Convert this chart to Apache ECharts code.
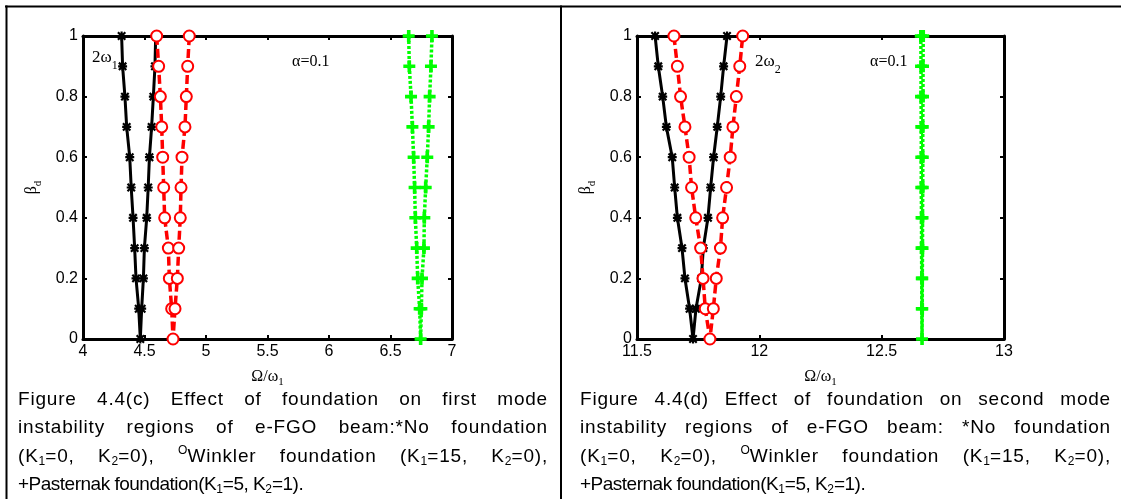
<!DOCTYPE html>
<html>
<head>
<meta charset="utf-8">
<script src="https://cdn.jsdelivr.net/npm/echarts@6/dist/echarts.min.js"></script>
<style>
html,body{margin:0;padding:0;background:#fff;width:1121px;height:499px;overflow:hidden;}
#chart{position:absolute;left:0;top:0;width:1121px;height:499px;}
.cap{position:absolute;font-family:"Liberation Sans",Arial,sans-serif;font-size:19px;line-height:28.3px;color:#000;}
.cap .j{text-align:justify;text-align-last:justify;letter-spacing:0.8px;}
.cap .l{text-align:left;letter-spacing:-0.5px;}
.cap sub{font-size:12px;vertical-align:-3px;line-height:0;letter-spacing:0;}
.cap sup{font-size:12px;vertical-align:8px;line-height:0;letter-spacing:0;}
</style>
</head>
<body>
<div id="chart"></div>
<div class="cap" style="left:18px;top:385px;width:530px;">
  <div class="j">Figure 4.4(c) Effect of foundation on first mode</div>
  <div class="j">instability regions of e-FGO beam:*No foundation</div>
  <div class="j">(K<sub>1</sub>=0, K<sub>2</sub>=0), <sup>O</sup>Winkler foundation (K<sub>1</sub>=15, K<sub>2</sub>=0),</div>
  <div class="l">+Pasternak foundation(K<sub>1</sub>=5, K<sub>2</sub>=1).</div>
</div>
<div class="cap" style="left:580px;top:385px;width:531px;">
  <div class="j">Figure 4.4(d) Effect of foundation on second mode</div>
  <div class="j">instability regions of e-FGO beam: *No foundation</div>
  <div class="j">(K<sub>1</sub>=0, K<sub>2</sub>=0), <sup>O</sup>Winkler foundation (K<sub>1</sub>=15, K<sub>2</sub>=0),</div>
  <div class="l">+Pasternak foundation(K<sub>1</sub>=5, K<sub>2</sub>=1).</div>
</div>
<script>
// beta_d values (y)
const betaVals = [0, 0.1, 0.2, 0.3, 0.4, 0.5, 0.6, 0.7, 0.8, 0.9, 1];

// (c) first mode: lower / upper boundary of instability region (Omega/omega1) at each beta_d
const c_noFoundLower  = [4.466, 4.453, 4.431, 4.420, 4.407, 4.392, 4.380, 4.355, 4.341, 4.322, 4.314];
const c_noFoundUpper  = [4.466, 4.477, 4.491, 4.499, 4.518, 4.530, 4.540, 4.558, 4.572, 4.585, 4.591];
const c_winklerLower  = [4.732, 4.721, 4.702, 4.694, 4.664, 4.656, 4.648, 4.640, 4.629, 4.615, 4.599];
const c_winklerUpper  = [4.732, 4.748, 4.767, 4.778, 4.791, 4.797, 4.805, 4.829, 4.840, 4.851, 4.864];
const c_pasterLower   = [6.745, 6.737, 6.721, 6.713, 6.702, 6.696, 6.688, 6.678, 6.667, 6.653, 6.648];
const c_pasterUpper   = [6.745, 6.751, 6.756, 6.772, 6.775, 6.786, 6.799, 6.810, 6.818, 6.829, 6.837];

// (d) second mode
const d_noFoundLower  = [11.729, 11.715, 11.696, 11.684, 11.665, 11.654, 11.644, 11.620, 11.605, 11.587, 11.574];
const d_noFoundUpper  = [11.729, 11.741, 11.763, 11.771, 11.790, 11.801, 11.813, 11.828, 11.842, 11.854, 11.868];
const d_winklerLower  = [11.798, 11.779, 11.770, 11.760, 11.740, 11.723, 11.713, 11.696, 11.678, 11.665, 11.651];
const d_winklerUpper  = [11.798, 11.812, 11.824, 11.841, 11.850, 11.866, 11.881, 11.892, 11.906, 11.920, 11.932];
const d_pasterLower   = [12.665, 12.664, 12.664, 12.663, 12.663, 12.662, 12.662, 12.662, 12.661, 12.661, 12.660];
const d_pasterUpper   = [12.665, 12.666, 12.666, 12.667, 12.667, 12.668, 12.668, 12.668, 12.669, 12.669, 12.670];

// axis ranges
const c_xRange = [4, 7];
const d_xRange = [11.5, 13];

function branchPath(lower, upper) {
  const pts = [];
  for (let i = betaVals.length - 1; i >= 0; i--) pts.push([lower[i], betaVals[i]]);
  for (let i = 1; i < betaVals.length; i++) pts.push([upper[i], betaVals[i]]);
  return pts;
}

const SANS = 'Liberation Sans';
const SERIF = 'Liberation Serif';
const asterisk = 'path://M3.8,0 L6.2,0 L6.2,10 L3.8,10 Z M0,3.8 L10,3.8 L10,6.2 L0,6.2 Z M1.75,0.05 L9.95,8.25 L8.25,9.95 L0.05,1.75 Z M8.25,0.05 L9.95,1.75 L1.75,9.95 L0.05,8.25 Z';
const plus = 'path://M3.5,0 L6.5,0 L6.5,3.5 L10,3.5 L10,6.5 L6.5,6.5 L6.5,10 L3.5,10 L3.5,6.5 L0,6.5 L0,3.5 L3.5,3.5 Z';

const subRich = {
  a: {fontFamily: SERIF, fontSize: 16, lineHeight: 16, color: '#000'},
  b: {fontFamily: SERIF, fontSize: 11, lineHeight: 10, padding: [12, 0, 0, 0], color: '#000'}
};

function xAx(grid, pos, range, showLabel) {
  const ax = {
    type: 'value', gridIndex: grid, position: pos, min: range[0], max: range[1], interval: 0.5,
    axisLine: {show: true, onZero: false, lineStyle: {color: '#000', width: 3}},
    axisTick: {show: true, inside: true, length: 4, lineStyle: {color: '#000', width: 2}},
    axisLabel: {show: showLabel, color: '#000', fontFamily: SANS, fontSize: 16, margin: 5},
    splitLine: {show: false}
  };
  if (showLabel) {
    ax.name = '{a|Ω/ω}{b|1}';
    ax.nameLocation = 'middle';
    ax.nameGap = 21;
    ax.nameTextStyle = {rich: subRich};
  }
  return ax;
}
function yAx(grid, pos, showLabel) {
  const ax = {
    type: 'value', gridIndex: grid, position: pos, min: 0, max: 1, interval: 0.2,
    axisLine: {show: true, onZero: false, lineStyle: {color: '#000', width: 3}},
    axisTick: {show: true, inside: true, length: 4, lineStyle: {color: '#000', width: 2}},
    axisLabel: {show: showLabel, color: '#000', fontFamily: SANS, fontSize: 16, margin: 5},
    splitLine: {show: false}
  };
  if (showLabel) {
    ax.name = '{a|β}{b|d}';
    ax.nameLocation = 'middle';
    ax.nameGap = 43;
    ax.nameRotate = 90;
    ax.nameTextStyle = {rich: subRich};
  }
  return ax;
}

function seriesSet(gridIdx, nf, wk, ps) {
  const xi = gridIdx * 2, yi = gridIdx * 2;
  return [
    {type: 'line', xAxisIndex: xi, yAxisIndex: yi, data: nf, clip: false, z: 3,
     symbol: asterisk, symbolSize: 9,
     lineStyle: {color: '#000', width: 3, type: 'solid'}, itemStyle: {color: '#000'}},
    {type: 'line', xAxisIndex: xi, yAxisIndex: yi, data: wk, clip: false, z: 4,
     symbol: 'emptyCircle', symbolSize: 11,
     lineStyle: {color: '#ff0000', width: 3.5, type: [9, 4]},
     itemStyle: {color: '#ff0000', borderColor: '#ff0000', borderWidth: 3.5}},
    {type: 'line', xAxisIndex: xi, yAxisIndex: yi, data: ps, clip: false, z: 5,
     symbol: plus, symbolSize: 12,
     lineStyle: {color: '#00ff00', width: 3.5, type: [3, 2]}, itemStyle: {color: '#00ff00'}}
  ];
}

function annot(x, y, text, rich) {
  return {type: 'text', x: x, y: y, z: 100,
    style: {text: text, rich: rich, textAlign: 'left', textVerticalAlign: 'middle', fill: '#000'}};
}
const annRich = {
  a: {fontFamily: SERIF, fontSize: 17, lineHeight: 17, color: '#000'},
  b: {fontFamily: SERIF, fontSize: 12, lineHeight: 11, padding: [16, 0, 0, 0], color: '#000'}
};
const alphaRich = {a: {fontFamily: SERIF, fontSize: 16, lineHeight: 16, color: '#000'}};

const chart = echarts.init(document.getElementById('chart'), null, {renderer: 'canvas'});
chart.setOption({
  animation: false,
  backgroundColor: '#fff',
  grid: [
    {left: 83, right: 669, top: 36, bottom: 160},
    {left: 637, right: 117, top: 36, bottom: 160}
  ],
  xAxis: [
    xAx(0, 'bottom', c_xRange, true), xAx(0, 'top', c_xRange, false),
    xAx(1, 'bottom', d_xRange, true), xAx(1, 'top', d_xRange, false)
  ],
  yAxis: [
    yAx(0, 'left', true), yAx(0, 'right', false),
    yAx(1, 'left', true), yAx(1, 'right', false)
  ],
  series: [].concat(
    seriesSet(0, branchPath(c_noFoundLower, c_noFoundUpper), branchPath(c_winklerLower, c_winklerUpper), branchPath(c_pasterLower, c_pasterUpper)),
    seriesSet(1, branchPath(d_noFoundLower, d_noFoundUpper), branchPath(d_winklerLower, d_winklerUpper), branchPath(d_pasterLower, d_pasterUpper))
  ),
  graphic: [
    {type: 'line', shape: {x1: 5, y1: 6.5, x2: 1121, y2: 6.5}, style: {stroke: '#000', lineWidth: 2}},
    {type: 'line', shape: {x1: 6.5, y1: 5.5, x2: 6.5, y2: 499}, style: {stroke: '#000', lineWidth: 2}},
    {type: 'line', shape: {x1: 561, y1: 5.5, x2: 561, y2: 499}, style: {stroke: '#000', lineWidth: 2}},
    annot(92, 58, '{a|2ω}{b|1}', annRich),
    annot(292, 62, '{a|α=0.1}', alphaRich),
    annot(755, 62, '{a|2ω}{b|2}', annRich),
    annot(870, 62, '{a|α=0.1}', alphaRich)
  ]
});
</script>
</body>
</html>
